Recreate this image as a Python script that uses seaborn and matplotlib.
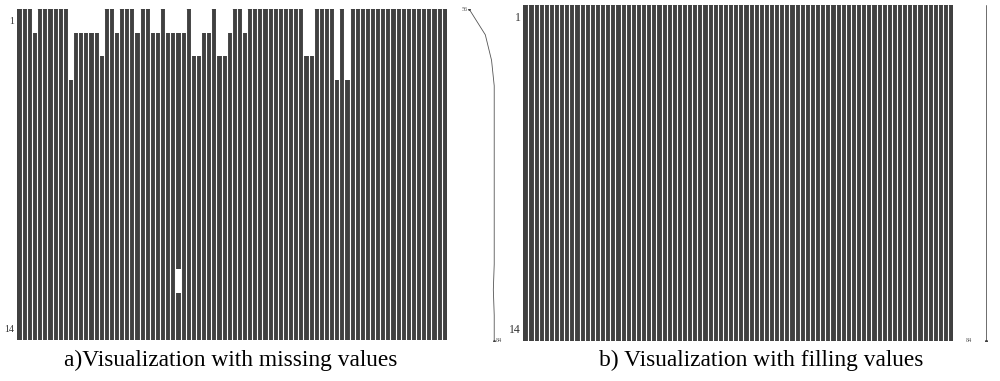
import numpy as np
import pandas as pd
import matplotlib
matplotlib.use("Agg")
import matplotlib.pyplot as plt
from matplotlib.colors import ListedColormap
import seaborn as sns

sns.set_theme(style="white")
plt.rcParams['font.family'] = ['Liberation Serif', 'DejaVu Serif']

# ---- data ----
n_rows = 14
n_cols = 84
# number of missing cells counted from the top row, per column (panel a)
missing_depth_a = [0, 0, 0, 1, 0, 0, 0, 0, 0, 0, 3, 1, 1, 1, 1, 1, 2, 0, 0, 1,
                   0, 0, 0, 1, 0, 0, 1, 1, 0, 1, 1, 1, 1, 0, 2, 2, 1, 1, 0, 2,
                   2, 1, 0, 0, 1, 0, 0, 0, 0, 0, 0, 0, 0, 0, 0, 0, 2, 2, 0, 0,
                   0, 0, 3, 0, 3, 0, 0, 0, 0, 0, 0, 0, 0, 0, 0, 0, 0, 0, 0, 0,
                   0, 0, 0, 0]
# isolated missing cells (row, column) in panel a
extra_missing_a = [(11, 31)]
row_labels = ['1', '14']
caption_a = "a)Visualization with missing values"
caption_b = "b) Visualization with filling values"

present_a = np.ones((n_rows, n_cols), dtype=int)
for c, d in enumerate(missing_depth_a):
    present_a[:d, c] = 0
for r, c in extra_missing_a:
    present_a[r, c] = 0
present_b = np.ones((n_rows, n_cols), dtype=int)

df_a = pd.DataFrame(present_a)
df_b = pd.DataFrame(present_b)

dark = (0.25, 0.25, 0.25)
cmap = ListedColormap(['white', dark])

W, H = 1000, 381
fig = plt.figure(figsize=(W / 100, H / 100), dpi=100)


def fr(x0, y0, x1, y1):
    return [x0 / W, (H - y1) / H, (x1 - x0) / W, (y1 - y0) / H]


def draw_matrix(ax, df, label_fs):
    sns.heatmap(df, ax=ax, cmap=cmap, vmin=0, vmax=1, cbar=False,
                xticklabels=False, yticklabels=False)
    for x in range(1, df.shape[1]):
        ax.axvline(x, color='white', linewidth=0.8)
    ax.set_yticks([0.5, df.shape[0] - 0.5])
    ax.set_yticklabels(row_labels, fontsize=label_fs, rotation=0)
    ax.tick_params(axis='y', length=0, pad=2, colors='#333333')
    ax.set_xticks([])
    for s in ax.spines.values():
        s.set_visible(False)


def draw_spark(ax, df, show_max=True, fs=4.5):
    comp = (df == 1).sum(axis=1)
    y_range = list(reversed(comp.values))
    x_domain = list(range(len(y_range)))
    mn, mx = min(y_range), max(y_range)
    mni, mxi = y_range.index(mn), y_range.index(mx)
    ax.plot(y_range, x_domain, color='#555555', linewidth=0.6)
    ax.plot([mn], [mni], '.', color=dark, markersize=2.0)
    ax.plot([mx], [mxi], '.', color=dark, markersize=2.0)
    ax.annotate(str(mn), xy=(mn, mni), xytext=(mn - 2, mni), fontsize=fs,
                va='center', ha='right', color='#555555')
    if show_max:
        ax.annotate(str(mx), xy=(mx, mxi), xytext=(mx + 2, mxi), fontsize=fs,
                    va='center', ha='left', color='#555555')
    ax.set_xlim(mn - 2, mx + 2)
    ax.set_ylim(0, len(y_range) - 1)
    ax.set_xticks([])
    ax.set_yticks([])
    for s in ax.spines.values():
        s.set_visible(False)
    ax.patch.set_alpha(0)


ax_a = fig.add_axes(fr(16.7, 9, 446.8, 340))
draw_matrix(ax_a, df_a, 7)
sp_a = fig.add_axes(fr(467.5, 9.3, 496, 340.7))
draw_spark(sp_a, df_a, show_max=True)

ax_b = fig.add_axes(fr(523.3, 4.7, 953.3, 340.7))
draw_matrix(ax_b, df_b, 8.5)
sp_b = fig.add_axes(fr(972, 4.7, 999.4, 340.7))
draw_spark(sp_b, df_b, show_max=False)

fig.text(231 / W, (H - 360) / H, caption_a, ha='center', va='center', fontsize=16.8, color='black')
fig.text(761 / W, (H - 360) / H, caption_b, ha='center', va='center', fontsize=16.8, color='black')

fig.savefig("out.png", dpi=100)
